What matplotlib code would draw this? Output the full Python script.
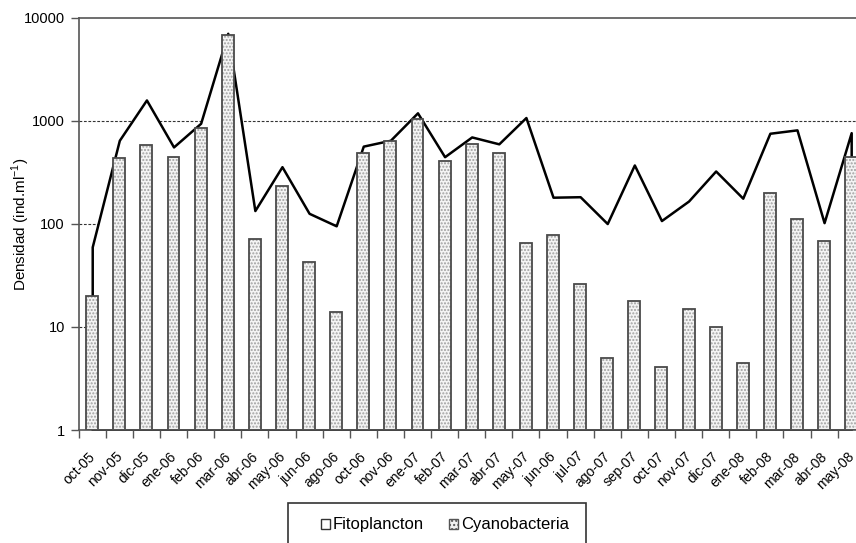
import matplotlib
matplotlib.use("Agg")
import matplotlib.pyplot as plt
import matplotlib.patches as mpatches
import matplotlib.transforms as mtransforms
import numpy as np

plt.rcParams['font.family'] = ['Liberation Sans', 'DejaVu Sans']

# months (as written in the original, incl. the "jun-06" typo)
meses = ['oct-05', 'nov-05', 'dic-05', 'ene-06', 'feb-06', 'mar-06', 'abr-06',
         'may-06', 'jun-06', 'ago-06', 'oct-06', 'nov-06', 'ene-07', 'feb-07',
         'mar-07', 'abr-07', 'may-07', 'jun-06', 'jul-07', 'ago-07', 'sep-07',
         'oct-07', 'nov-07', 'dic-07', 'ene-08', 'feb-08', 'mar-08', 'abr-08',
         'may-08']

# total phytoplankton (white area)
fitoplancton = [60, 650, 1600, 560, 950, 7100, 135, 360, 127, 96, 570, 650,
                1200, 450, 700, 600, 1080, 182, 184, 101, 374, 108, 167, 327,
                178, 760, 820, 103, 770]

# cyanobacteria (dotted bars)
cyanobacteria = [19, 440, 580, 450, 850, 6800, 70, 235, 42, 13, 490, 640,
                 1050, 410, 600, 490, 64, 78, 25, 4.0, 17, 3.05, 14, 9.1,
                 3.5, 199, 112, 68, 445]

x = np.arange(len(meses))

fig = plt.figure(figsize=(8.56, 5.43), dpi=100)
ax = fig.add_axes([0.0919, 0.2081, 0.9183, 0.7588])

ax.set_yscale('log')
ax.set_ylim(1, 10000)
ax.set_xlim(-0.5, len(meses) - 0.5)

# gridlines under everything
for g in [10, 100, 1000]:
    ax.axhline(g, color='#333333', lw=0.8, ls=(0, (2.5, 1.5)), zorder=0.5)

# white area for Fitoplancton
ax.fill_between(x, 1, fitoplancton, facecolor='white', edgecolor='black',
                lw=1.8, zorder=1)

# dotted bars for Cyanobacteria
ax.bar(x, cyanobacteria, width=0.44, bottom=1, color='#f4f4f4',
       edgecolor='#a0a0a0', hatch='.....', lw=0, zorder=2)
ax.bar(x, cyanobacteria, width=0.44, bottom=1, color='none',
       edgecolor='#4a4a4a', lw=1.3, zorder=2.1)

# axes styling
for s in ['left', 'bottom', 'top']:
    ax.spines[s].set_color('#555555')
    ax.spines[s].set_linewidth(1.2)
ax.spines['right'].set_visible(False)

ax.set_yticks([1, 10, 100, 1000, 10000])
ax.set_yticklabels(['1', '10', '100', '1000', '10000'], fontsize=10.5)
ax.yaxis.set_minor_locator(matplotlib.ticker.NullLocator())
ax.tick_params(axis='y', length=6, width=1, color='#555555', pad=4)

ax.set_xticks(x)
ax.set_xticklabels(meses, rotation=45, ha='right', va='top',
                   rotation_mode='anchor', fontsize=10)
ax.tick_params(axis='x', which='major', length=0, pad=14)
ax.set_xticks(np.arange(-0.5, len(meses), 1), minor=True)
ax.tick_params(axis='x', which='minor', length=6, width=1, color='#555555')
shift = mtransforms.ScaledTranslation(-0.04, 0, fig.dpi_scale_trans)
for lbl in ax.get_xticklabels():
    lbl.set_transform(lbl.get_transform() + shift)

ax.set_ylabel('Densidad (ind.ml$^{\\mathregular{-1}}$)', fontsize=11)
ax.yaxis.set_label_coords(-0.060, 0.5)

# legend: frame drawn by hand so it can run off the bottom like the original
fig.patches.append(mpatches.Rectangle((288 / 856, -0.05), 298 / 856,
                                      0.05 + (543 - 503) / 543,
                                      transform=fig.transFigure, fill=False,
                                      edgecolor='#333333', lw=1.2))
h1 = mpatches.Patch(facecolor='white', edgecolor='#333333', lw=1)
h2 = mpatches.Patch(facecolor='#f0f0f0', edgecolor='#555555', hatch='....', lw=1)
leg = fig.legend([h1, h2], ['Fitoplancton', 'Cyanobacteria'], ncol=2,
                 loc='center', bbox_to_anchor=(445 / 856, 1 - 525 / 543),
                 fontsize=12, frameon=False, borderpad=0,
                 handlelength=0.55, handleheight=0.55, handletextpad=0.15,
                 columnspacing=1.5, borderaxespad=0)

fig.savefig('out.png', dpi=100)
